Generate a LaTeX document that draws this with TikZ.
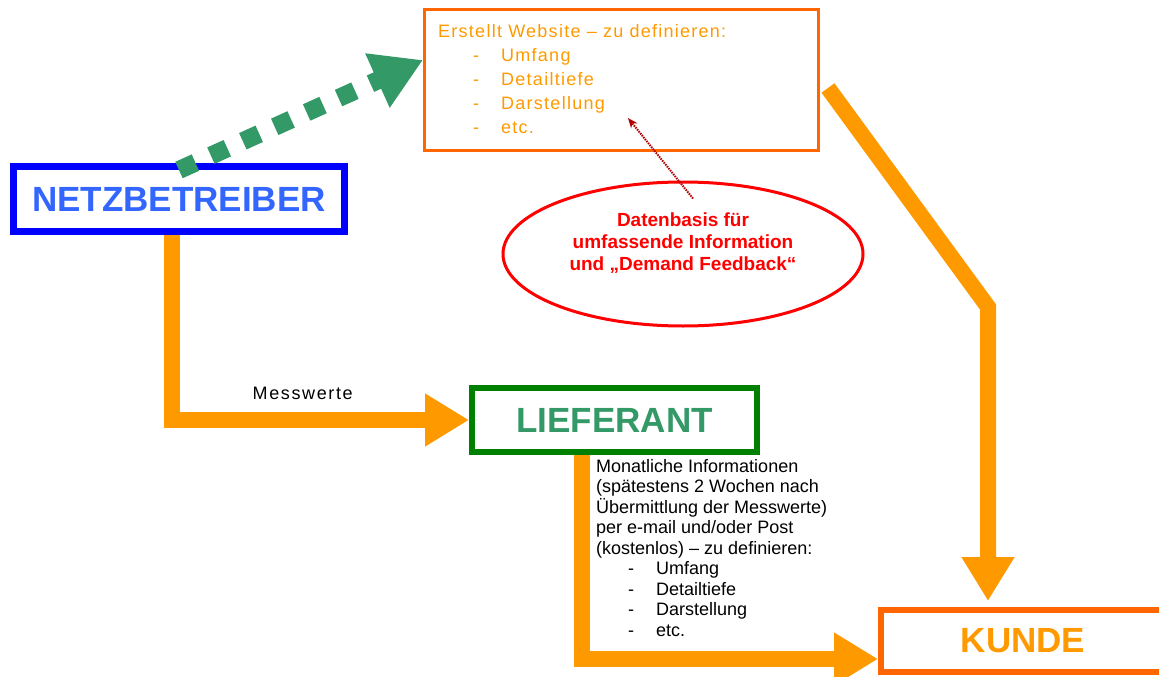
\documentclass[tikz,border=0pt]{standalone}
\usepackage{fontspec}
\setmainfont{Liberation Sans}
\usepackage{tikz}
\usetikzlibrary{shapes.geometric, arrows.meta}
\definecolor{netzblue}{HTML}{0000FF}
\definecolor{netztext}{HTML}{3366FF}
\definecolor{liefgreen}{HTML}{008000}
\definecolor{lieftext}{HTML}{339966}
\definecolor{kundeorange}{HTML}{FF6600}
\definecolor{flowcolor}{HTML}{FF9900}
\definecolor{webgreen}{HTML}{339966}
\definecolor{feedred}{HTML}{FF0000}
\definecolor{feeddark}{HTML}{B00000}
\tikzstyle{party} = [rectangle, inner sep=0pt, font=\fontsize{35}{40}\selectfont\bfseries]
\tikzstyle{netz} = [party, draw=netzblue, line width=7pt, text=netztext, minimum width=331pt, minimum height=65pt]
\tikzstyle{lief} = [party, draw=liefgreen, line width=6pt, text=lieftext, minimum width=285pt, minimum height=64pt]
\tikzstyle{kunde} = [party, draw=kundeorange, line width=6pt, text=flowcolor, minimum width=284pt, minimum height=62pt]
\tikzstyle{webbox} = [rectangle, draw=kundeorange, line width=3pt, minimum width=394pt, minimum height=141pt]
\tikzstyle{webtext} = [anchor=north west, inner sep=0pt, align=left, text=flowcolor, font=\fontsize{18}{24}\selectfont\addfontfeatures{LetterSpace=7}]
\tikzstyle{feedellipse} = [ellipse, draw=feedred, line width=3pt, minimum width=360pt, minimum height=144pt]
\tikzstyle{feedtext} = [align=center, inner sep=0pt, text=feedred, font=\fontsize{19}{22}\selectfont\bfseries]
\tikzstyle{infotext} = [anchor=north west, inner sep=0pt, align=left, font=\fontsize{18}{20.5}\selectfont]
\tikzstyle{flow} = [line width=16pt, draw=flowcolor, -{Triangle[length=44pt, width=50pt]}]
\tikzstyle{weblink} = [line width=18pt, draw=webgreen, dash pattern=on 18pt off 17pt, -{Triangle[length=50pt, width=56pt]}]
\tikzstyle{feedback} = [line width=2pt, draw=feeddark, dash pattern=on 1.5pt off 1pt, -{Stealth[length=10pt, width=8pt]}]
\newcommand{\listitem}[2]{\hspace*{#1}\makebox[28pt][l]{-}#2}

\begin{document}
\begin{tikzpicture}[x=1pt, y=-1pt]
	\useasboundingbox (0,0) rectangle (1159,677);
	\clip (0,0) rectangle (1159,677);
	\node (netz) [netz] at (179,199) {NETZBETREIBER};
	\node (web) [webbox] at (621.5,80) {};
	\node (webitems) [webtext] at (438,24) {Erstellt Website -- zu definieren:\\
		\listitem{35pt}{Umfang}\\ \listitem{35pt}{Detailtiefe}\\ \listitem{35pt}{Darstellung}\\ \listitem{35pt}{etc.}};
	\node (ell) [feedellipse] at (683,254) {};
	\node (feedlabel) [feedtext] at (683,243) {Datenbasis für\\umfassende Information\\und „Demand Feedback“};
	\node (lief) [lief] at (614.5,420) {LIEFERANT};
	\node (kunde) [kunde] at (1023,641) {KUNDE};
	\node (info) [infotext] at (596,459) {Monatliche Informationen\\(spätestens 2 Wochen nach\\Übermittlung der Messwerte)\\per e-mail und/oder Post\\(kostenlos) -- zu definieren:\\
		\listitem{32pt}{Umfang}\\ \listitem{32pt}{Detailtiefe}\\ \listitem{32pt}{Darstellung}\\ \listitem{32pt}{etc.}};
	\coordinate (bend) at (988,307);
	\coordinate (webpoint) at (628,118);
	\draw [weblink] ([yshift=-7pt]netz.north) -- ([yshift=20pt]web.west);
	\draw [flow] ([xshift=-7pt]netz.south) |- node [pos=0.72, above=9pt, text=black, font=\fontsize{18}{20}\selectfont\addfontfeatures{LetterSpace=9}] {Messwerte} (lief.west);
	\draw [flow] ([xshift=-33pt]lief.south) |- ([yshift=-18pt]kunde.west);
	\draw [flow, shorten >=6pt] ([shift={(8pt,-8pt)}]web.east) -- (bend) -- (bend |- kunde.north);
	\draw [feedback] ([shift={(10pt,-18pt)}]ell.north) -- (webpoint);
\end{tikzpicture}
\end{document}
